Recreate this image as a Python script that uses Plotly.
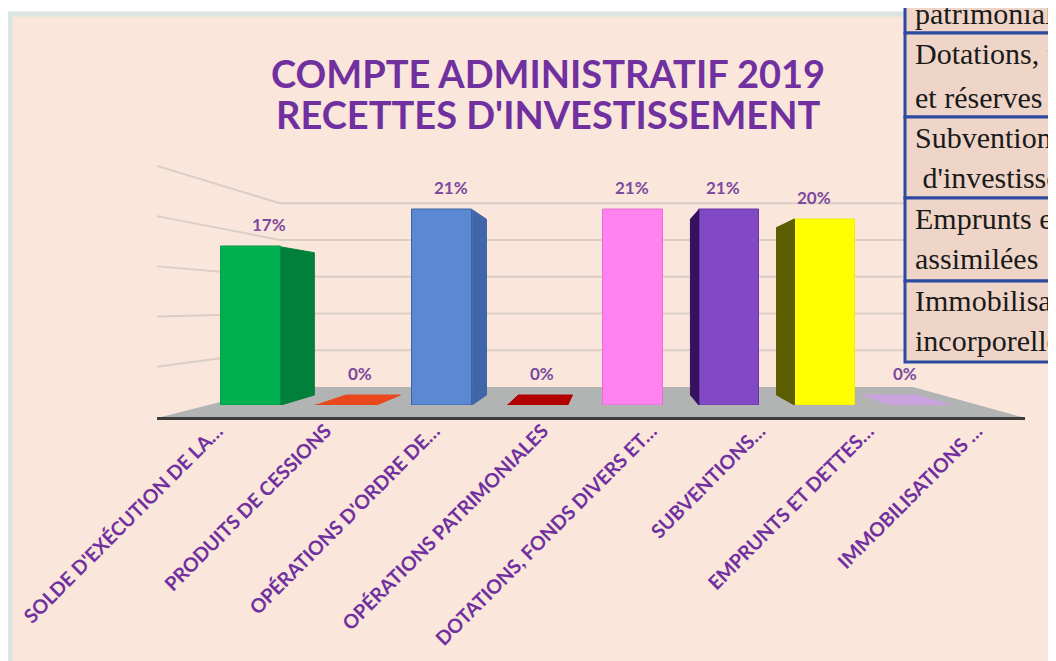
import plotly.graph_objects as go

# ---------------- data ----------------
categories = [
    "SOLDE D'EXÉCUTION DE LA…",
    "PRODUITS DE CESSIONS",
    "OPÉRATIONS D'ORDRE DE…",
    "OPÉRATIONS PATRIMONIALES",
    "DOTATIONS, FONDS DIVERS ET…",
    "SUBVENTIONS…",
    "EMPRUNTS ET DETTES…",
    "IMMOBILISATIONS …",
]
values = [17, 0, 21, 0, 21, 21, 20, 0]
value_labels = ["17%", "0%", "21%", "0%", "21%", "21%", "20%", "0%"]

front_colors = ["#00B050", "#E8481C", "#5B88D2", "#B20000", "#FF82EE", "#8249C4", "#FFFF00", "#C9A2DE"]
side_colors = ["#00803A", "#D8421A", "#3F66A8", "#A00000", "#E060C8", "#35115E", "#5C5C00", "#BE96D6"]
outline_colors = ["#00A048", "#E8481C", "#3A62A8", "#B20000", "#E86CD6", "#6A34A8", "#EEEE00", "#C9A2DE"]

title_lines = ["COMPTE ADMINISTRATIF 2019", "RECETTES D'INVESTISSEMENT"]
table_rows = [
    ["patrimoniales"],
    ["Dotations, fonds divers", "et réserves"],
    ["Subventions", " d'investissement"],
    ["Emprunts et dettes", "assimilées"],
    ["Immobilisations", "incorporelles"],
]
grid_values = [0, 5, 10, 15, 20, 25]

# ---------------- geometry (page pixels) ----------------
PAGE_W, PAGE_H = 1056, 661
OFF = 8                      # page body margin around the figure
W, H = PAGE_W - OFF, PAGE_H - OFF
X0, X1 = 203, 968            # bar axis domain
YB, YT = 405, 172.5          # bar value axis domain (bottom, top)
Y_MAX = 25
SCALE = (YB - YT) / Y_MAX
BAND = (X1 - X0) / len(categories)
VP = (615, 305)              # vanishing point
DEPTH = 0.1
HALF = 0.315
BACK_BASE = 387              # back wall base
BACK_SCALE = 7.35            # back wall px per unit
WALL_L, WALL_R = 280, 913    # back wall x extent
FLOOR_L, FLOOR_R, FLOOR_Y = 157, 1025, 418


def px(x):
    return (x - OFF) / W


def py(y):
    return 1 - (y - OFF) / H


vpx = (VP[0] - X0) / BAND - 0.5
vpy = (YB - VP[1]) / SCALE


def back(x, y):
    return x + DEPTH * (vpx - x), y + DEPTH * (vpy - y)


fig = go.Figure()

# invisible helper traces so the helper axes exist
fig.add_trace(go.Scatter(x=[0], y=[0], xaxis="x", yaxis="y2", mode="markers",
                         marker=dict(opacity=0), hoverinfo="skip", showlegend=False))
fig.add_trace(go.Scatter(x=list(range(len(categories))), y=[0] * len(categories),
                         xaxis="x2", yaxis="y", mode="markers",
                         marker=dict(opacity=0), hoverinfo="skip", showlegend=False))

# front faces
fig.add_trace(go.Bar(
    x=list(range(len(categories))), y=values, width=2 * HALF,
    marker=dict(color=front_colors, line=dict(color=outline_colors, width=1)),
    hoverinfo="skip", showlegend=False,
))

# side faces / flat slabs
for i, (v, c) in enumerate(zip(values, side_colors)):
    fl, fr = i - HALF, i + HALF
    polys = []
    if v > 0:
        if fr < vpx:
            e = fr
            polys.append([(e, 0), (e, v), back(e, v), back(e, 0)])
        if fl > vpx:
            e = fl
            polys.append([(e, 0), (e, v), back(e, v), back(e, 0)])
        col = c
    else:
        polys.append([(fl, 0), (fr, 0), back(fr, 0), back(fl, 0)])
        col = front_colors[i]
    for poly in polys:
        xs = [p[0] for p in poly] + [poly[0][0]]
        ys = [p[1] for p in poly] + [poly[0][1]]
        fig.add_trace(go.Scatter(x=xs, y=ys, mode="lines", fill="toself",
                                 fillcolor=col, line=dict(color=col, width=1),
                                 hoverinfo="skip", showlegend=False))

# ---------------- shapes ----------------
shapes = []
# panel
shapes.append(dict(type="rect", xref="paper", yref="paper", x0=px(10), x1=px(1064),
                   y0=py(668), y1=py(14), fillcolor="#FAE6DA",
                   line=dict(color="#DCE6E0", width=5), layer="below"))
# side wall lines
k = (FLOOR_L - VP[0]) / (WALL_L - VP[0])
for g in grid_values[1:]:
    yb = BACK_BASE - g * BACK_SCALE
    yl = VP[1] + k * (yb - VP[1])
    shapes.append(dict(type="line", xref="paper", yref="paper",
                       x0=px(FLOOR_L), y0=py(yl), x1=px(WALL_L), y1=py(yb),
                       line=dict(color="rgba(170,170,170,0.4)", width=2), layer="below"))
# back wall grid lines (y2 scale)
for g in grid_values[1:]:
    shapes.append(dict(type="line", xref="paper", yref="y2",
                       x0=px(WALL_L), x1=px(WALL_R), y0=g, y1=g,
                       line=dict(color="rgba(170,170,170,0.4)", width=2), layer="below"))
# floor
floor_path = (f"M {px(FLOOR_L)},{py(FLOOR_Y)} L {px(WALL_L)},{py(BACK_BASE)} "
              f"L {px(WALL_R)},{py(BACK_BASE)} L {px(FLOOR_R)},{py(FLOOR_Y)} Z")
shapes.append(dict(type="path", xref="paper", yref="paper", path=floor_path,
                   fillcolor="#B2B4B4", line=dict(width=0), layer="below"))

# table (overlay top-right)
TX = 905
row_edges = [-10, 33, 117, 198, 281, 362]
for r in range(len(table_rows)):
    shapes.append(dict(type="rect", xref="paper", yref="paper",
                       x0=px(TX), x1=px(1080), y0=py(row_edges[r + 1]), y1=py(row_edges[r]),
                       fillcolor="#EFD5C7", line=dict(color="#2C4AA0", width=3), layer="above"))

# ---------------- annotations ----------------
ann = []
for j, t in enumerate(title_lines):
    ann.append(dict(x=px(548), y=py(73 + 41 * j), xref="paper", yref="paper", text=t,
                    showarrow=False, xanchor="center", yanchor="middle",
                    font=dict(family="Lato", size=38, color="#7030A0", weight=700)))

for i, (v, lab) in enumerate(zip(values, value_labels)):
    bx, by = back(i, v)
    ann.append(dict(x=(i + bx) / 2, y=max(v, by), xref="x", yref="y", text=lab,
                    showarrow=False, yshift=22, xanchor="center", yanchor="middle",
                    font=dict(family="Lato", size=17, color="#7B4A9E", weight=700)))

text_centers = [[13], [53, 97], [137, 177], [218, 258], [300, 340]]
for lines, ys in zip(table_rows, text_centers):
    for t, yy in zip(lines, ys):
        ann.append(dict(x=px(913), y=py(yy), xref="paper", yref="paper", text=t,
                        showarrow=False, xanchor="left", yanchor="middle",
                        font=dict(family="Liberation Serif", size=30, color="#1A1A1A")))

fig.update_layout(
    width=W, height=H,
    margin=dict(l=0, r=0, t=0, b=0, autoexpand=False),
    paper_bgcolor="white", plot_bgcolor="rgba(0,0,0,0)",
    showlegend=False, bargap=0,
    shapes=shapes, annotations=ann,
    xaxis=dict(domain=[px(X0), px(X1)], range=[-0.5, len(categories) - 0.5],
               visible=False, fixedrange=True),
    yaxis=dict(domain=[py(YB), py(YT)], range=[0, Y_MAX], visible=False),
    yaxis2=dict(overlaying="y", anchor="x",
                range=[-(YB - BACK_BASE) / BACK_SCALE, (BACK_BASE - YT) / BACK_SCALE],
                visible=False),
    xaxis2=dict(domain=[px(FLOOR_L), px(FLOOR_R)], anchor="free", position=py(FLOOR_Y),
                range=[-0.5, len(categories) - 0.5], automargin=False,
                tickmode="array", tickvals=list(range(len(categories))), ticktext=categories,
                tickangle=-45, ticks="", showgrid=False, zeroline=False,
                ticklabelshift=6, ticklabelstandoff=-8,
                showline=True, linecolor="#3C3C3C", linewidth=3,
                tickfont=dict(family="Lato", size=19.5, color="#7030A0", weight=700)),
)

fig.write_html("out.html")
